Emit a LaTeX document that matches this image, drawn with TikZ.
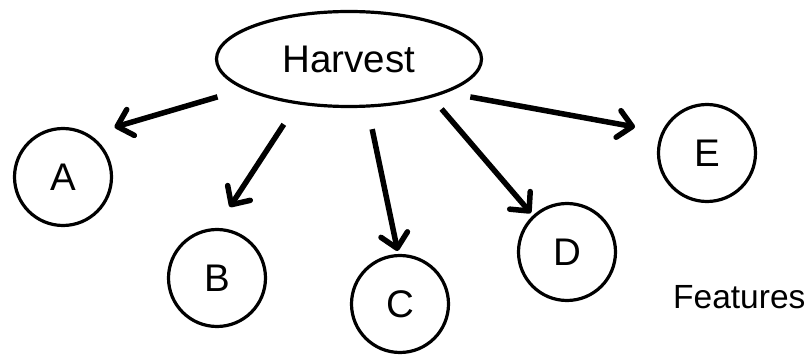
\documentclass[tikz,border=0pt]{standalone}
\usepackage{fontspec}
\setmainfont{Liberation Sans}
\usetikzlibrary{shapes.geometric,arrows.meta}

\begin{document}
\begin{tikzpicture}[
  x=1pt,y=1pt,
  font=\fontsize{38.5}{46}\selectfont,
  ell/.style={draw,ellipse,line width=3.2pt,minimum width=265pt,minimum height=95pt,inner sep=0pt},
  c/.style={draw,circle,line width=3.2pt,minimum size=97pt,inner sep=0pt},
  >={Straight Barb[length=14pt,width=27pt,round]},
  ar/.style={->,line width=5.5pt}
]
\useasboundingbox (0,0) rectangle (812,354);
\node[ell] (h) at (349,295) {Harvest};
\node[c] (a) at (63,177) {A};
\node[c] (b) at (217,76) {B};
\node[c] (c) at (400,50) {C};
\node[c] (d) at (567,102) {D};
\node[c] (e) at (707,201) {E};
\node[font=\fontsize{33.5}{40}\selectfont,anchor=base west,inner sep=0pt] (f) at (673,46) {Features};
\draw[ar,shorten <=27pt,shorten >=26pt] (h.196) -- (a.58);
\draw[ar,shorten <=24pt,shorten >=25pt] (h.221) -- (b.91);
\draw[ar,shorten <=22pt,shorten >=3pt] (h.291) -- (c.92);
\draw[ar,shorten <=15pt,shorten >=3pt] (h.335) -- (d.133);
\draw[ar,shorten <=24pt,shorten >=27pt] (h.341) -- (e.155);
\end{tikzpicture}
\end{document}
